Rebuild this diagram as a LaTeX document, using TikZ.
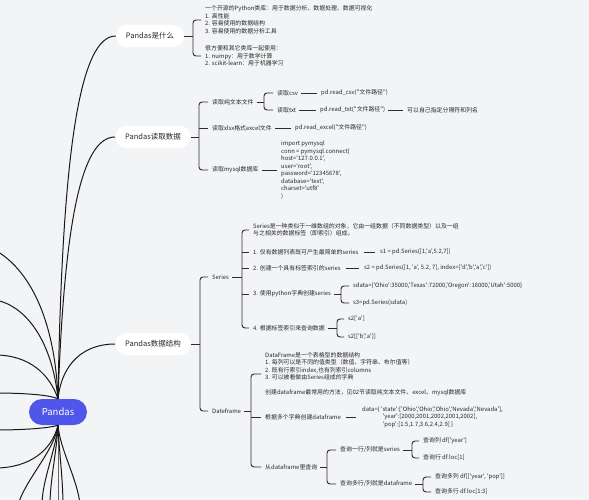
\documentclass[tikz,border=0pt]{standalone}
\usepackage{fontspec}
\setmainfont{Noto Sans CJK SC}[Ligatures=TeXOff]
\definecolor{bgc}{RGB}{243,244,246}
\definecolor{linkc}{RGB}{45,45,45}
\definecolor{textc}{RGB}{40,40,40}
\definecolor{rootblue}{RGB}{80,86,234}
\newcommand\leaffont{\fontsize{5.9}{7.5}\selectfont}
\tikzset{
  link/.style={draw=linkc, line width=0.95pt},
  bracket/.style={link, rounded corners=3pt},
  leaf/.style={anchor=west, inner sep=0pt, font=\leaffont, text=textc, align=left},
  topic/.style={fill=white, rounded corners=11pt, minimum height=22pt, inner xsep=10pt, font=\fontsize{7.5}{9}\selectfont, text=textc},
  rootnode/.style={fill=rootblue, rounded corners=13pt, minimum height=26pt, minimum width=58pt, text=white, font=\fontsize{9.5}{11}\selectfont},
  branch/.style={draw=black!90, line width=1pt},
}
\begin{document}
\begin{tikzpicture}[x=1pt,y=-1pt]
\fill[bgc] (0,0) rectangle (589,500);
\useasboundingbox (0,0) rectangle (589,500);

% root and topics
\node[rootnode] (root) at (58,412) {Pandas};
\node[topic] (t1) at (150,36) {Pandas是什么};
\node[topic] (t2) at (153,137) {Pandas读取数据};
\node[topic] (t3) at (153,344) {Pandas数据结构};

% off-frame coordinates
\coordinate (u1) at (-5,250);
\coordinate (u2) at (-5,300);
\coordinate (l1) at (-5,355);
\coordinate (l2) at (-5,393);
\coordinate (l3) at (-5,430);
\coordinate (l4) at (-5,468);
\coordinate (d1c) at (18,505);
\coordinate (d2c) at (42,505);
\coordinate (d3c) at (50,505);
\coordinate (d4c) at (58,505);
\coordinate (d5c) at (63,505);
\coordinate (d6c) at (80,505);

\draw[branch] (root.north) .. controls (62,150) and (80,36) .. (t1.west);
\draw[branch] (root.north) .. controls (64,230) and (80,137) .. (t2.west);
\draw[branch] (root.north) .. controls (62,362) and (85,344) .. (t3.west);
\draw[branch] (root.north) .. controls (55,320) and (30,270) .. (u1);
\draw[branch] (root.north) .. controls (52,340) and (25,305) .. (u2);
\draw[branch] (root.north) .. controls (50,375) and (30,355) .. (l1);
\draw[branch] (root.north) .. controls (50,395) and (25,393) .. (l2);
\draw[branch] (root.south) .. controls (50,428) and (25,430) .. (l3);
\draw[branch] (root.south) .. controls (52,450) and (30,468) .. (l4);
\draw[branch] (root.south) .. controls (55,450) and (25,480) .. (d1c);
\draw[branch] (root.south) .. controls (56,450) and (42,480) .. (d2c);
\draw[branch] (root.south) .. controls (57,450) and (50,480) .. (d3c);
\draw[branch] (root.south) .. controls (58,450) and (58,480) .. (d4c);
\draw[branch] (root.south) .. controls (59,450) and (63,480) .. (d5c);
\draw[branch] (root.south) .. controls (60,450) and (78,480) .. (d6c);

% ---------- Pandas是什么 ----------
\node[leaf] (a1) at (205,20) {一个开源的Python类库：用于数据分析、数据处理、数据可视化\\1. 高性能\\2. 容易使用的数据结构\\3. 容易使用的数据分析工具};
\node[leaf] (a2) at (205,56) {很方便和其它类库一起使用：\\1. numpy：用于数学计算\\2. scikit-learn：用于机器学习};
\coordinate (b1x) at (193,36);
\draw[link] (t1.east) -- (b1x);
\draw[bracket] ([xshift=-4pt]a1.west) -| (b1x) |- ([xshift=-4pt]a2.west);

% ---------- Pandas读取数据 ----------
\node[leaf] (b1) at (212,102) {读取纯文本文件};
\node[leaf] (b2) at (212,128) {读取xlsx格式excel文件};
\node[leaf] (b3) at (212,170) {读取mysql数据库};
\coordinate (b2x) at (199,137);
\draw[link] (t2.east) -- (b2x);
\draw[bracket] ([xshift=-4pt]b1.west) -| (b2x) |- ([xshift=-4pt]b3.west);
\draw[link] (b2x |- b2.west) -- ([xshift=-4pt]b2.west);

\node[leaf] (c1) at (277,93) {读取csv};
\node[leaf] (c2) at (277,110) {读取txt};
\coordinate (b3x) at (264,102);
\draw[link] ([xshift=3pt]b1.east) -- (b3x);
\draw[bracket] ([xshift=-4pt]c1.west) -| (b3x) |- ([xshift=-4pt]c2.west);

\node[leaf] (d1) at (321,93) {pd.read\_csv("文件路径")};
\node[leaf] (d2) at (320,110) {pd.read\_txt("文件路径")};
\node[leaf] (d3) at (407,110) {可以自己指定分隔符和列名};
\node[leaf] (d4) at (295,128) {pd.read\_excel("文件路径")};
\node[leaf] (d5) at (281,170) {import pymysql\\conn = pymysql.connect(\\host='127.0.0.1',\\user='root',\\password='12345678',\\database='test',\\charset='utf8'\\)};
\draw[link] ([xshift=3pt]c1.east) -- ([xshift=-4pt]d1.west);
\draw[link] ([xshift=3pt]c2.east) -- ([xshift=-4pt]d2.west);
\draw[link] ([xshift=3pt]d2.east) -- ([xshift=-4pt]d3.west);
\draw[link] ([xshift=3pt]b2.east) -- ([xshift=-4pt]d4.west);
\draw[link] ([xshift=3pt]b3.east) -- ([xshift=-4pt]d5.west);

% ---------- Pandas数据结构 ----------
\node[leaf] (e1) at (212,277) {Series};
\node[leaf] (e2) at (212,411) {Dateframe};
\coordinate (b4x) at (200,344);
\draw[link] (t3.east) -- (b4x);
\draw[bracket] ([xshift=-4pt]e1.west) -| (b4x) |- ([xshift=-4pt]e2.west);

% Series
\node[leaf] (f1) at (253,230) {Series是一种类似于一维数组的对象，它由一组数据（不同数据类型）以及一组\\与之相关的数据标签（即索引）组成。};
\node[leaf] (f2) at (253,252) {1. 仅有数据列表既可产生最简单的series};
\node[leaf] (f3) at (253,268) {2. 创建一个具有标签索引的series};
\node[leaf] (f4) at (253,294) {3. 使用python字典创建series};
\node[leaf] (f5) at (253,328) {4. 根据标签索引来查询数据};
\coordinate (b5x) at (242,277);
\draw[link] ([xshift=3pt]e1.east) -- (b5x);
\draw[bracket] ([xshift=-4pt]f1.west) -| (b5x) |- ([xshift=-4pt]f5.west);
\draw[link] (b5x |- f2.west) -- ([xshift=-4pt]f2.west);
\draw[link] (b5x |- f3.west) -- ([xshift=-4pt]f3.west);
\draw[link] (b5x |- f4.west) -- ([xshift=-4pt]f4.west);

\node[leaf] (g1) at (380,252) {s1 = pd.Series([1,'a',5.2,7])};
\node[leaf] (g2) at (364,268) {s2 = pd.Series([1, 'a', 5.2, 7], index=['d','b','a','c'])};
\draw[link] ([xshift=5pt]f2.east) -- ([xshift=-5pt]g1.west);
\draw[link] ([xshift=5pt]f3.east) -- ([xshift=-5pt]g2.west);

\node[leaf] (g3) at (353,286) {sdata=\{'Ohio':35000,'Texas':72000,'Oregon':16000,'Utah':5000\}};
\node[leaf] (g4) at (353,303) {s3=pd.Series(sdata)};
\coordinate (b6x) at (341,294);
\draw[link] ([xshift=3pt]f4.east) -- (b6x);
\draw[bracket] ([xshift=-4pt]g3.west) -| (b6x) |- ([xshift=-4pt]g4.west);

\node[leaf] (g5) at (348,319) {s2['a']};
\node[leaf] (g6) at (348,337) {s2[['b','a']]};
\coordinate (b7x) at (337,328);
\draw[link] ([xshift=3pt]f5.east) -- (b7x);
\draw[bracket] ([xshift=-4pt]g5.west) -| (b7x) |- ([xshift=-4pt]g6.west);

% Dataframe
\node[leaf] (h1) at (265,374) {DataFrame是一个表格型的数据结构\\1. 每列可以是不同的值类型（数值、字符串、布尔值等）\\2. 既有行索引index,也有列索引columns\\3. 可以被看做由Series组成的字典\\[7.5pt]创建dataframe最常用的方法，见02节读取纯文本文件、excel、mysql数据库};
\node[leaf] (h2) at (265,417) {根据多个字典创建dataframe};
\node[leaf] (h3) at (265,467) {从dataframe里查询};
\coordinate (b8x) at (251,411);
\draw[link] ([xshift=3pt]e2.east) -- (b8x);
\draw[bracket] ([xshift=-4pt]h1.west) -| (b8x) |- ([xshift=-4pt]h3.west);
\draw[link] (b8x |- h2.west) -- ([xshift=-4pt]h2.west);

\node[leaf] (i1) at (362,417) {data=\{ 'state':['Ohio','Ohio','Ohio','Nevada','Nevada'],\\\hphantom{data=\{ i}'year':[2000,2001,2002,2001,2002],\\\hphantom{data=\{ i}'pop':[1.5,1.7,3.6,2.4,2.9] \}};
\draw[link] ([xshift=5pt]h2.east) -- ([xshift=-6pt]i1.west);

\node[leaf] (j1) at (340,450) {查询一行/列就是series};
\node[leaf] (j2) at (340,484) {查询多行/列就是dataframe};
\coordinate (b9x) at (327,467);
\draw[link] ([xshift=3pt]h3.east) -- (b9x);
\draw[bracket] ([xshift=-4pt]j1.west) -| (b9x) |- ([xshift=-4pt]j2.west);

\node[leaf] (k1) at (423,441) {查询列 df['year']};
\node[leaf] (k2) at (423,458) {查询行 df.loc[1]};
\coordinate (b10x) at (412,450);
\draw[link] ([xshift=3pt]j1.east) -- (b10x);
\draw[bracket] ([xshift=-4pt]k1.west) -| (b10x) |- ([xshift=-4pt]k2.west);

\node[leaf] (k3) at (435,477) {查询多列 df[['year', 'pop']]};
\node[leaf] (k4) at (435,492) {查询多行 df.loc[1:3]};
\coordinate (b11x) at (423,484);
\draw[link] ([xshift=3pt]j2.east) -- (b11x);
\draw[bracket] ([xshift=-4pt]k3.west) -| (b11x) |- ([xshift=-4pt]k4.west);
\end{tikzpicture}
\end{document}
